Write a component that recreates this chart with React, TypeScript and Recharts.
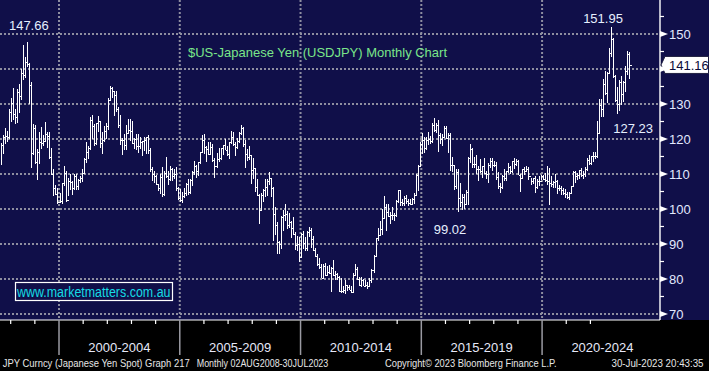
import React from 'react';
import { ComposedChart, Bar, XAxis, YAxis, CartesianGrid, ReferenceDot } from 'recharts';

// Monthly USDJPY bars, first bar = July 1997, last bar = July 2023
const START_YEAR = 1997;
const START_MONTH = 7;

const HIGH = [
  // 1997 Jul-Dec
  118.9, 121.0, 123.0, 122.4, 128.5, 131.7,
  // 1998
  134.5, 128.5, 134.3, 135.8, 139.9, 146.8, 143.5, 147.66, 141.6, 136.3, 124.2, 124.1,
  // 1999
  117.0, 122.0, 123.3, 121.0, 124.8, 122.0, 122.0, 117.3, 111.5, 107.0, 106.0, 104.6,
  // 2000
  107.5, 112.2, 111.0, 108.9, 109.9, 108.1, 110.0, 109.9, 108.6, 109.3, 111.4, 114.7,
  // 2001
  119.1, 118.0, 126.3, 126.8, 124.2, 124.7, 126.6, 125.0, 122.0, 123.7, 124.6, 131.8,
  // 2002
  135.2, 134.9, 133.7, 133.8, 129.1, 126.9, 120.4, 121.4, 124.1, 125.7, 125.6, 125.0,
  // 2003
  120.2, 121.5, 121.4, 120.6, 119.4, 120.5, 120.6, 121.2, 117.3, 112.0, 111.0, 109.6,
  // 2004
  107.2, 109.9, 112.1, 110.9, 114.9, 111.0, 112.2, 111.6, 111.4, 111.9, 106.4, 105.7,
  // 2005
  104.8, 106.0, 107.5, 108.5, 108.6, 110.9, 113.7, 112.6, 113.5, 116.4, 121.1, 121.4,
  // 2006
  118.0, 119.0, 119.0, 118.7, 114.5, 116.0, 117.3, 117.4, 118.3, 119.9, 118.0, 119.2,
  // 2007
  122.2, 122.0, 119.0, 120.2, 122.0, 124.1, 123.5, 119.8, 117.0, 117.9, 115.4, 114.7,
  // 2008
  111.8, 108.6, 104.2, 104.7, 105.6, 108.6, 108.6, 110.7, 109.0, 106.4, 100.5, 96.4,
  // 2009
  91.0, 98.0, 99.8, 101.4, 99.5, 98.9, 96.5, 97.8, 93.3, 92.3, 92.1, 93.2,
  // 2010
  93.8, 92.1, 93.8, 95.0, 94.7, 92.4, 89.0, 87.2, 86.0, 84.2, 84.4, 84.5,
  // 2011
  83.7, 83.9, 83.3, 85.5, 82.2, 81.7, 81.0, 80.2, 77.9, 79.6, 78.3, 78.3,
  // 2012
  77.9, 81.7, 84.2, 83.3, 80.5, 80.6, 80.0, 79.6, 79.2, 80.4, 82.8, 86.8,
  // 2013
  91.8, 94.5, 96.7, 99.9, 103.7, 101.5, 101.5, 99.2, 100.6, 99.0, 102.6, 105.4,
  // 2014
  105.4, 102.8, 103.8, 104.1, 102.8, 102.8, 103.2, 104.5, 110.1, 112.5, 119.0, 121.8,
  // 2015
  120.5, 120.5, 122.0, 120.8, 124.5, 125.9, 124.6, 125.3, 121.8, 121.5, 123.8, 123.7,
  // 2016
  121.7, 121.7, 114.9, 112.7, 111.5, 111.4, 107.5, 104.3, 104.3, 105.5, 114.8, 118.7,
  // 2017
  117.5, 114.9, 115.5, 112.2, 114.4, 112.4, 114.5, 111.0, 113.2, 114.5, 114.7, 113.8,
  // 2018
  113.4, 110.5, 107.3, 109.6, 111.4, 111.0, 113.2, 112.2, 113.7, 114.6, 114.2, 114.0,
  // 2019
  110.0, 111.5, 112.1, 112.4, 112.0, 109.0, 109.0, 109.3, 108.5, 109.3, 109.7, 109.7,
  // 2020
  110.3, 112.2, 111.7, 109.4, 108.1, 109.9, 108.2, 107.0, 106.6, 106.1, 105.7, 104.8,
  // 2021
  104.9, 106.7, 111.0, 110.9, 110.2, 111.1, 111.7, 110.8, 112.1, 114.7, 115.5, 115.2,
  // 2022
  116.4, 116.3, 125.1, 131.3, 131.3, 137.0, 139.4, 139.1, 145.9, 151.95, 148.8, 138.2,
  // 2023 Jan-Jul
  134.8, 136.9, 137.9, 136.6, 140.9, 145.1, 144.9,
];

const LOW = [
  112.6, 115.6, 118.5, 119.2, 119.9, 124.9,
  125.3, 124.4, 124.5, 127.3, 131.1, 136.9, 137.3, 140.5, 130.1, 111.6, 115.4, 112.8,
  108.3, 113.0, 117.2, 117.9, 119.0, 117.3, 114.3, 109.6, 103.7, 104.0, 101.3, 101.6,
  101.4, 106.6, 102.0, 103.6, 105.4, 103.9, 105.4, 105.3, 105.3, 107.3, 107.7, 109.9,
  113.1, 114.4, 116.9, 120.0, 117.9, 118.3, 121.9, 117.5, 115.8, 119.0, 119.9, 122.6,
  130.8, 131.6, 126.6, 127.8, 123.1, 118.4, 115.5, 116.8, 116.8, 121.4, 119.4, 118.6,
  117.1, 116.8, 115.9, 117.0, 115.2, 116.7, 115.7, 115.7, 110.7, 107.9, 107.3, 106.8,
  105.2, 104.4, 103.4, 103.7, 108.8, 106.9, 107.9, 108.0, 108.6, 105.2, 102.5, 101.9,
  101.7, 103.1, 103.8, 104.1, 104.4, 106.6, 109.8, 108.8, 109.3, 112.9, 116.4, 115.8,
  113.4, 115.4, 115.5, 113.5, 108.9, 111.7, 113.4, 114.0, 115.4, 116.8, 115.1, 114.4,
  118.5, 118.1, 115.2, 117.0, 118.8, 121.1, 117.6, 111.6, 113.7, 113.9, 107.2, 108.6,
  104.9, 103.8, 95.8, 99.6, 102.1, 103.5, 103.8, 107.0, 103.5, 90.9, 92.5, 87.1,
  87.1, 88.5, 93.6, 96.5, 94.4, 94.5, 91.7, 92.6, 88.2, 88.0, 84.8, 86.2,
  88.5, 88.1, 88.1, 92.0, 88.9, 88.1, 86.3, 83.6, 82.9, 80.2, 80.3, 80.9,
  81.2, 81.5, 76.3, 81.0, 79.6, 79.7, 76.3, 75.9, 75.9, 75.6, 76.6, 76.9,
  76.0, 76.1, 80.9, 79.6, 78.1, 77.7, 77.9, 78.0, 77.1, 77.6, 79.0, 81.7,
  86.5, 90.9, 92.6, 92.6, 97.2, 93.8, 97.6, 95.8, 96.9, 96.6, 97.6, 101.6,
  100.8, 100.8, 100.8, 101.4, 100.8, 101.1, 101.1, 101.5, 103.8, 105.2, 112.3, 115.6,
  115.9, 116.9, 118.3, 118.5, 118.9, 122.0, 121.6, 116.2, 118.6, 118.1, 120.2, 120.1,
  115.9, 110.9, 110.7, 105.5, 105.6, 99.02, 100.7, 99.6, 100.1, 101.2, 101.2, 113.1,
  111.6, 111.6, 110.1, 108.1, 110.2, 108.8, 110.0, 108.6, 107.3, 111.7, 110.8, 111.9,
  108.3, 105.6, 104.6, 105.7, 108.1, 108.1, 110.3, 110.0, 110.4, 111.4, 112.3, 109.6,
  104.9, 108.5, 109.7, 110.8, 108.3, 106.8, 107.2, 104.5, 105.7, 106.5, 108.3, 108.4,
  107.7, 107.0, 101.2, 106.4, 106.0, 106.1, 104.2, 105.1, 104.0, 104.0, 103.2, 102.9,
  102.6, 104.4, 106.4, 107.5, 108.3, 108.6, 109.1, 108.7, 109.1, 110.8, 112.5, 112.6,
  113.5, 114.4, 114.7, 121.3, 126.4, 126.4, 132.5, 130.4, 138.8, 143.5, 137.5, 130.6,
  127.23, 128.1, 129.6, 130.6, 133.5, 138.4, 137.2,
];

const CLOSE = [
  118.4, 120.7, 120.9, 120.6, 127.8, 130.3,
  127.0, 126.4, 133.3, 132.3, 138.8, 138.4, 142.0, 141.3, 135.3, 116.0, 123.0, 113.3,
  116.3, 119.1, 118.8, 119.4, 121.3, 120.9, 114.8, 110.1, 106.0, 104.3, 102.1, 102.2,
  107.3, 110.2, 102.7, 108.1, 107.7, 106.1, 109.4, 106.7, 108.2, 108.9, 110.4, 114.4,
  116.4, 117.3, 125.5, 123.6, 118.9, 124.6, 125.0, 118.9, 119.6, 122.4, 123.6, 131.0,
  134.7, 133.6, 132.7, 128.5, 124.1, 119.6, 119.8, 118.4, 121.8, 122.5, 122.4, 118.8,
  119.9, 118.0, 118.1, 119.0, 119.4, 119.8, 120.5, 116.8, 111.5, 110.0, 109.5, 107.2,
  105.9, 109.1, 104.2, 110.4, 109.4, 108.7, 111.4, 109.3, 110.0, 105.9, 103.1, 102.6,
  103.6, 104.6, 107.1, 105.0, 108.3, 110.7, 112.4, 110.9, 113.3, 116.4, 119.8, 117.8,
  117.2, 115.8, 117.8, 113.9, 112.4, 114.4, 114.7, 117.3, 118.2, 116.9, 115.8, 119.1,
  120.7, 118.6, 117.8, 119.5, 121.7, 123.1, 118.6, 115.8, 114.8, 115.4, 111.2, 111.7,
  106.4, 103.9, 99.7, 104.0, 105.5, 106.2, 108.0, 108.8, 106.0, 98.5, 95.5, 90.7,
  89.9, 97.6, 98.3, 98.6, 95.3, 96.4, 94.7, 93.0, 89.8, 90.1, 86.3, 93.0,
  90.3, 88.9, 93.5, 94.0, 91.3, 88.4, 86.5, 84.2, 83.5, 80.4, 83.7, 81.1,
  82.0, 81.8, 83.1, 81.2, 81.5, 80.5, 76.7, 76.6, 77.0, 78.2, 77.6, 76.9,
  76.3, 81.2, 82.9, 80.0, 78.3, 79.8, 78.1, 78.4, 77.9, 79.8, 82.5, 86.7,
  91.7, 92.6, 94.2, 97.5, 100.5, 99.1, 97.9, 98.2, 98.3, 98.3, 102.4, 105.3,
  102.0, 101.8, 103.2, 102.2, 101.8, 101.3, 102.8, 104.1, 109.7, 112.3, 118.6, 119.8,
  117.5, 119.6, 120.1, 119.4, 124.1, 122.5, 123.9, 121.2, 119.9, 120.6, 123.1, 120.2,
  121.1, 112.7, 112.6, 106.5, 110.7, 103.2, 102.1, 103.4, 101.3, 104.8, 114.5, 117.0,
  112.8, 112.8, 111.4, 111.5, 110.8, 112.4, 110.3, 110.0, 112.5, 113.7, 112.5, 112.7,
  109.2, 106.7, 106.3, 109.3, 108.8, 110.8, 111.9, 111.0, 113.7, 112.9, 113.6, 109.7,
  108.9, 111.4, 110.9, 111.4, 109.3, 107.9, 108.8, 106.3, 108.1, 108.0, 109.5, 108.6,
  108.4, 107.9, 107.5, 107.2, 107.8, 107.9, 105.9, 105.9, 105.5, 104.7, 104.3, 103.3,
  104.7, 106.6, 110.7, 109.3, 109.6, 111.1, 109.7, 110.0, 111.3, 114.0, 113.2, 115.1,
  115.1, 115.0, 121.7, 129.8, 128.7, 135.7, 133.2, 138.9, 144.7, 148.7, 138.1, 131.1,
  130.1, 136.2, 132.8, 136.3, 139.3, 144.3, 141.16,
];

const PERIOD_LABELS = ['2000-2004', '2005-2009', '2010-2014', '2015-2019', '2020-2024'];
const PERIOD_START_YEARS = [2000, 2005, 2010, 2015, 2020];
const TICK_YEARS = [
  1998, 1999, 2000, 2001, 2002, 2003, 2004, 2005, 2006, 2007, 2008, 2009, 2010,
  2011, 2012, 2013, 2014, 2015, 2016, 2017, 2018, 2019, 2020, 2021, 2022,
];
const Y_TICKS = [70, 75, 80, 85, 90, 95, 100, 105, 110, 115, 120, 125, 130, 135, 140, 145, 150, 155];
const Y_GRID = [70, 80, 90, 100, 110, 120, 130, 140, 150];
const LAST_PRICE = 141.16;

const MARKERS = [
  { text: '147.66', year: 1998, month: 8, value: 147.66 },
  { text: '151.95', year: 2022, month: 10, value: 151.95 },
  { text: '127.23', year: 2023, month: 1, value: 127.23 },
  { text: '99.02', year: 2016, month: 6, value: 99.02 },
];
// label placement relative to marked bar (layout only)
const MARKER_OFFSETS = [
  { dx: 1.5, dy: -12 },
  { dx: -8, dy: -4.5 },
  { dx: 16, dy: 19 },
  { dx: -8, dy: 21.6 },
];

const TITLE = '$US-Japanese Yen (USDJPY) Monthly Chart';
const WEBSITE = 'www.marketmatters.com.au';
const FOOT_LEFT_1 = 'JPY Curncy (Japanese Yen Spot) Graph 217';
const FOOT_LEFT_2 = 'Monthly 02AUG2008-30JUL2023';
const FOOT_MID = 'Copyright\u00A9 2023 Bloomberg Finance L.P.';
const FOOT_RIGHT = '30-Jul-2023 20:43:35';

const monthIndex = (y: number, m: number) => (y - START_YEAR) * 12 + (m - START_MONTH);
const DIVIDER_SHIFT = -1.25;
const yearPos = (y: number) => monthIndex(y, 1) + DIVIDER_SHIFT;

const X_DOMAIN: [number, number] = [-0.566, 327.33];
const Y_DOMAIN: [number, number] = [68.286, 159.714];

const rows = HIGH.map((h, i) => ({
  i,
  range: [LOW[i], h],
  high: h,
  low: LOW[i],
  close: CLOSE[i],
}));

const DIVIDER_POS = PERIOD_START_YEARS.map(yearPos);
const LABEL_POS = PERIOD_START_YEARS.map((y) => yearPos(y) + 30);
const YEAR_POS = TICK_YEARS.map(yearPos);
const X_TICKS = [...YEAR_POS, ...LABEL_POS].sort((a, b) => a - b);

const NAVY = '#100f49';
const FONT = '"Liberation Sans", Arial, sans-serif';

const BarShape = (props: any) => {
  const { x, y, width, height, payload } = props;
  if (x == null || y == null || !payload) return null;
  const cx = Math.round(x + width / 2) + 0.5;
  const span = payload.high - payload.low;
  const yc = span > 0 ? y + ((payload.high - payload.close) / span) * height : y;
  const ycr = Math.round(yc) + 0.5;
  return (
    <g shapeRendering="crispEdges">
      <line x1={cx} x2={cx} y1={y} y2={y + Math.max(height, 1)} stroke="#ffffff" strokeWidth={1} />
      <line x1={cx} x2={cx + 2} y1={ycr} y2={ycr} stroke="#ffffff" strokeWidth={1} />
    </g>
  );
};

const XTick = (props: any) => {
  const { x, y, payload } = props;
  const v = payload.value;
  const li = LABEL_POS.findIndex((p) => Math.abs(p - v) < 1e-6);
  if (li >= 0) {
    return (
      <text x={x} y={y + 31.5} textAnchor="middle" fontFamily={FONT} fontSize={13} fill="#e6e8f8">
        {PERIOD_LABELS[li]}
      </text>
    );
  }
  const isDivider = DIVIDER_POS.some((p) => Math.abs(p - v) < 1e-6);
  if (isDivider) {
    return <line x1={x} x2={x} y1={y} y2={y + 35} stroke="#9a9aa2" strokeWidth={1.5} />;
  }
  return <line x1={x} x2={x} y1={y} y2={y + 4} stroke="#ffffff" strokeWidth={1.2} />;
};

const YTick = (props: any) => {
  const { x, y, payload } = props;
  const v = payload.value;
  if (v % 10 === 0) {
    return (
      <g>
        <path d={`M${x},${y - 3}L${x + 8},${y}L${x},${y + 3}Z`} fill="#ffffff" />
        {Math.abs(v - LAST_PRICE) > 4 && (
          <text x={x + 9} y={y + 5} fontFamily={FONT} fontSize={13} fill="#e2e9ff">
            {v}
          </text>
        )}
      </g>
    );
  }
  return <line x1={x} x2={x + 4} y1={y} y2={y} stroke="#ffffff" strokeWidth={1.2} />;
};

export default function App() {
  return (
    <div style={{ position: 'absolute', left: 0, top: 0, width: 709, height: 371, background: '#000000', overflow: 'hidden' }}>
      <div style={{ position: 'absolute', left: 0, top: 0, width: 709, height: 320, background: NAVY }} />
      <div style={{ position: 'absolute', left: 0, top: 0 }}>
        <ComposedChart width={709} height={371} data={rows} margin={{ top: 0, right: 0, bottom: 0, left: 0 }}>
          <CartesianGrid
            horizontal
            vertical
            horizontalValues={Y_GRID}
            verticalValues={DIVIDER_POS}
            stroke="#8e8ea0"
            strokeWidth={2}
            strokeDasharray="2 2"
            fill="none"
          />
          <XAxis
            type="number"
            dataKey="i"
            domain={X_DOMAIN}
            allowDataOverflow
            ticks={X_TICKS}
            interval={0}
            height={51}
            tickSize={0}
            tickMargin={0}
            tickLine={false}
            axisLine={{ stroke: '#ffffff', strokeWidth: 1.2 }}
            tick={<XTick />}
          />
          <YAxis
            orientation="right"
            type="number"
            domain={Y_DOMAIN}
            allowDataOverflow
            ticks={Y_TICKS}
            interval={0}
            width={49}
            tickSize={0}
            tickMargin={0}
            tickLine={false}
            axisLine={{ stroke: '#ffffff', strokeWidth: 1.4 }}
            tick={<YTick />}
          />
          <Bar dataKey="range" barSize={2} isAnimationActive={false} shape={<BarShape />} />
          {MARKERS.map((m, k) => (
            <ReferenceDot
              key={m.text}
              x={monthIndex(m.year, m.month)}
              y={m.value}
              r={0}
              ifOverflow="visible"
              shape={(p: any) => (
                <text
                  x={p.cx + MARKER_OFFSETS[k].dx}
                  y={p.cy + MARKER_OFFSETS[k].dy}
                  textAnchor="middle"
                  fontFamily={FONT}
                  fontSize={13}
                  fill="#e6efff"
                >
                  {m.text}
                </text>
              )}
            />
          ))}
          <ReferenceDot
            x={X_DOMAIN[1]}
            y={LAST_PRICE}
            r={0}
            ifOverflow="visible"
            shape={(p: any) => (
              <g>
                <path
                  d={`M${p.cx + 1},${p.cy}L${p.cx + 5},${p.cy - 8.5}L${p.cx + 48.5},${p.cy - 8.5}L${p.cx + 48.5},${p.cy + 8.5}L${p.cx + 5},${p.cy + 8.5}Z`}
                  fill="#ffffff"
                  stroke="#202040"
                  strokeWidth={1}
                />
                <text x={p.cx + 9} y={p.cy + 5} fontFamily={FONT} fontSize={13} fill="#0c0c3a">
                  {LAST_PRICE.toFixed(2)}
                </text>
              </g>
            )}
          />
        </ComposedChart>
      </div>
      <svg
        width={709}
        height={371}
        style={{ position: 'absolute', left: 0, top: 0, pointerEvents: 'none' }}
      >
        <text x={188} y={56.5} fontFamily={FONT} fontSize={13.5} fill="#7ae68a" textLength={259} lengthAdjust="spacingAndGlyphs">
          {TITLE}
        </text>
        <rect x={15.5} y={282.5} width={157} height={18} fill={NAVY} stroke="#ffffff" strokeWidth={1.2} />
        <text x={17} y={297} fontFamily={FONT} fontSize={14} fill="#16dce4" textLength={153.5} lengthAdjust="spacingAndGlyphs">
          {WEBSITE}
        </text>
        <text x={2.7} y={367} fontFamily={FONT} fontSize={10.5} fill="#e6e6e6" textLength={187} lengthAdjust="spacingAndGlyphs">
          {FOOT_LEFT_1}
        </text>
        <text x={196.7} y={367} fontFamily={FONT} fontSize={10.5} fill="#e6e6e6" textLength={131.6} lengthAdjust="spacingAndGlyphs">
          {FOOT_LEFT_2}
        </text>
        <text x={385} y={367} fontFamily={FONT} fontSize={10.5} fill="#e6e6e6" textLength={171.7} lengthAdjust="spacingAndGlyphs">
          {FOOT_MID}
        </text>
        <text x={611.5} y={366.5} fontFamily={FONT} fontSize={10} fill="#e6e6e6" textLength={92} lengthAdjust="spacingAndGlyphs">
          {FOOT_RIGHT}
        </text>
      </svg>
    </div>
  );
}
